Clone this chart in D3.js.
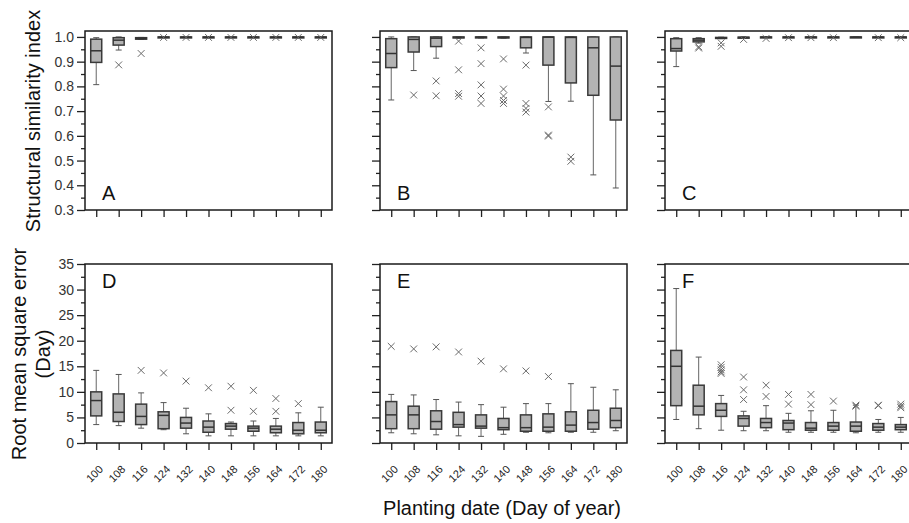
<!DOCTYPE html>
<html>
<head>
<meta charset="utf-8">
<script src="https://cdn.jsdelivr.net/npm/d3@7"></script>
<style>
  body { margin: 0; background: #fff; }
  text { font-family: "Liberation Sans", Arial, sans-serif; }
</style>
</head>
<body>
<div id="chart"></div>
<script>
// planting dates (categories)
const dates = ["100", "108", "116", "124", "132", "140", "148", "156", "164", "172", "180"];

// each box: [whisker low, q1, median, q3, whisker high]
const ssiA = [
  [0.807, 0.897, 0.944, 0.991, 0.997], [0.947, 0.967, 0.987, 0.997, 1.0], [0.990, 0.991, 0.994, 0.997, 0.998],
  [0.997, 0.998, 0.999, 1.0, 1.0], [0.997, 0.998, 0.999, 1.0, 1.0], [0.997, 0.998, 0.999, 1.0, 1.0],
  [0.997, 0.998, 0.999, 1.0, 1.0], [0.997, 0.998, 0.999, 1.0, 1.0], [0.997, 0.998, 0.999, 1.0, 1.0],
  [0.997, 0.998, 0.999, 1.0, 1.0], [0.997, 0.998, 0.999, 1.0, 1.0]
];
const ssiAOut = [[], [0.887], [0.933], [0.998], [0.998], [0.998], [0.998], [0.998], [0.998], [0.998], [0.998]];

const ssiB = [
  [0.745, 0.876, 0.933, 0.993, 1.0], [0.864, 0.939, 0.990, 1.0, 1.0], [0.914, 0.961, 0.995, 1.0, 1.0],
  [0.995, 0.996, 0.998, 1.0, 1.0], [0.996, 0.997, 0.999, 1.0, 1.0], [0.995, 0.996, 0.998, 1.0, 1.0],
  [0.935, 0.956, 0.998, 1.0, 1.0], [0.739, 0.886, 0.999, 1.0, 1.0], [0.740, 0.814, 0.998, 1.0, 1.0],
  [0.442, 0.764, 0.956, 1.0, 1.0], [0.389, 0.664, 0.882, 1.0, 1.0]
];
const ssiBOut = [
  [], [0.765], [0.822, 0.762], [0.983, 0.867, 0.771, 0.760], [0.956, 0.892, 0.806, 0.761, 0.731],
  [0.911, 0.789, 0.761, 0.743, 0.731], [0.886, 0.731, 0.711, 0.696], [0.717, 0.603, 0.599],
  [0.514, 0.497], [], []
];

const ssiC = [
  [0.880, 0.943, 0.953, 0.993, 0.997], [0.975, 0.980, 0.987, 0.993, 0.997], [0.993, 0.994, 0.996, 0.998, 0.999],
  [0.996, 0.997, 0.998, 0.999, 1.0], [0.997, 0.998, 0.999, 1.0, 1.0], [0.998, 0.998, 0.999, 1.0, 1.0],
  [0.998, 0.998, 0.999, 1.0, 1.0], [0.998, 0.998, 0.999, 1.0, 1.0], [0.998, 0.998, 0.999, 1.0, 1.0],
  [0.998, 0.998, 0.999, 1.0, 1.0], [0.998, 0.998, 0.999, 1.0, 1.0]
];
const ssiCOut = [[], [0.960, 0.955], [0.976, 0.962], [0.990], [0.994], [0.997], [0.997], [0.997], [], [0.997], [0.997]];

const rmseD = [
  [3.6, 5.3, 8.3, 10.0, 14.2], [3.4, 4.2, 6.0, 9.6, 13.4], [2.9, 3.6, 5.2, 7.6, 9.8],
  [2.6, 2.8, 5.4, 6.1, 7.9], [1.8, 2.9, 3.9, 5.0, 6.8], [1.4, 2.1, 3.1, 4.3, 5.7],
  [1.4, 2.7, 3.3, 3.8, 4.1], [1.4, 2.3, 2.9, 3.3, 4.3], [1.4, 2.0, 2.7, 3.3, 4.8],
  [1.4, 1.8, 2.5, 4.0, 5.9], [1.4, 2.0, 2.5, 4.1, 7.0]
];
const rmseDOut = [[], [], [14.2], [13.7], [12.1], [10.8], [11.1, 6.4], [10.3, 6.2], [8.7, 6.2], [7.7], []];

const rmseE = [
  [2.0, 2.8, 5.5, 8.1, 9.5], [1.8, 2.8, 5.5, 7.2, 9.4], [1.6, 2.7, 4.2, 6.3, 8.5],
  [1.4, 3.1, 3.6, 6.0, 8.0], [1.3, 2.9, 3.3, 5.5, 7.5], [1.7, 2.6, 3.0, 4.8, 7.0],
  [2.1, 2.3, 3.0, 5.5, 7.7], [2.0, 2.3, 3.1, 5.7, 7.7], [2.1, 2.3, 3.5, 6.1, 11.6],
  [2.1, 2.7, 4.0, 6.4, 10.9], [2.4, 3.0, 4.4, 6.8, 10.4]
];
const rmseEOut = [[18.9], [18.4], [18.8], [17.8], [16.0], [14.5], [14.1], [13.0], [], [], []];

const rmseF = [
  [4.6, 7.3, 15.0, 18.1, 30.2], [2.8, 5.5, 7.2, 11.3, 16.8], [2.5, 5.2, 6.4, 7.7, 9.3],
  [2.4, 3.3, 4.8, 5.3, 6.2], [2.4, 3.0, 4.0, 4.8, 7.3], [2.1, 2.6, 3.9, 4.4, 5.8],
  [2.1, 2.5, 2.9, 4.0, 6.3], [2.1, 2.5, 3.3, 4.0, 6.4], [2.0, 2.3, 3.3, 4.1, 7.4],
  [2.1, 2.5, 3.1, 3.8, 4.6], [2.1, 2.6, 3.1, 3.6, 5.0]
];
const rmseFOut = [
  [], [], [15.3, 14.8, 14.3, 13.9, 13.6], [12.9, 10.4, 8.5], [11.3, 9.1], [9.5, 7.6],
  [9.5, 7.5], [8.2], [7.4, 7.2], [7.4, 7.3], [7.6, 7.2, 6.9]
];

const ssiTicks = [0.3, 0.4, 0.5, 0.6, 0.7, 0.8, 0.9, 1.0];
const rmseTicks = [0, 5, 10, 15, 20, 25, 30, 35];

const width = 909, height = 523;
const panelW = 247, panelH = 179;
const colX = [85, 380, 665];
const rowY = [31, 264];

const svg = d3.select("#chart").append("svg")
  .attr("width", width)
  .attr("height", height);

const panels = [
  { letter: "A", boxes: ssiA, outs: ssiAOut, row: 0, col: 0 },
  { letter: "B", boxes: ssiB, outs: ssiBOut, row: 0, col: 1 },
  { letter: "C", boxes: ssiC, outs: ssiCOut, row: 0, col: 2 },
  { letter: "D", boxes: rmseD, outs: rmseDOut, row: 1, col: 0 },
  { letter: "E", boxes: rmseE, outs: rmseEOut, row: 1, col: 1 },
  { letter: "F", boxes: rmseF, outs: rmseFOut, row: 1, col: 2 }
];

function drawPanel(p) {
  let g = svg.append("g")
    .attr("transform", `translate(${colX[p.col]}, ${rowY[p.row]})`);

  let x = d3.scalePoint()
    .domain(dates)
    .range([0, panelW])
    .padding(0.5);

  let y, majors, minors, fmt;
  if (p.row === 0) {
    y = d3.scaleLinear().domain([0.3, 1.024]).range([panelH, 0]);
    majors = ssiTicks;
    minors = ssiTicks.slice(0, -1).map(v => v + 0.05);
    fmt = d3.format(".1f");
  } else {
    y = d3.scaleLinear().domain([0, 35]).range([panelH, 0]);
    majors = rmseTicks;
    minors = rmseTicks.slice(0, -1).map(v => v + 2.5);
    fmt = d3.format("d");
  }

  // minor y ticks
  g.append("g")
    .call(d3.axisLeft(y).tickValues(minors).tickSize(4).tickFormat(""))
    .call(a => a.select(".domain").remove())
    .selectAll("line").attr("stroke", "#222").attr("stroke-width", 1.3);

  // major y ticks (labels only on the left column)
  let yAx = g.append("g")
    .call(d3.axisLeft(y).tickValues(majors).tickSize(8).tickPadding(3)
      .tickFormat(p.col === 0 ? fmt : ""));
  yAx.select(".domain").remove();
  yAx.selectAll("line").attr("stroke", "#222").attr("stroke-width", 1.3);
  yAx.selectAll("text")
    .attr("fill", "#333")
    .style("font-size", "14px")
    .style("font-family", "Liberation Sans, Arial, sans-serif");

  // x ticks
  let xAx = g.append("g")
    .attr("transform", `translate(0, ${panelH})`)
    .call(d3.axisBottom(x).tickSize(7).tickFormat(""));
  xAx.select(".domain").remove();
  xAx.selectAll("line").attr("stroke", "#222").attr("stroke-width", 1.3);

  // rotated date labels on the bottom row (45 degrees up to the right)
  if (p.row === 1) {
    const c = Math.SQRT1_2;
    g.append("g").selectAll("text")
      .data(dates)
      .enter()
      .append("text")
      .attr("x", 0)
      .attr("y", 0)
      .attr("transform", d => `matrix(${c},${-c},${c},${c},${x(d) + 7.5},${panelH + 27})`)
      .style("text-anchor", "end")
      .style("font-size", "11px")
      .attr("fill", "#222")
      .text(d => d);
  }

  let bw = 11;

  let items = g.append("g").selectAll("g")
    .data(p.boxes)
    .enter()
    .append("g")
    .attr("transform", (d, i) => `translate(${x(dates[i])}, 0)`);

  // whiskers
  items.append("line")
    .attr("x1", 0).attr("x2", 0)
    .attr("y1", d => y(d[0])).attr("y2", d => y(d[1]))
    .attr("stroke", "#666").attr("stroke-width", 1);
  items.append("line")
    .attr("x1", 0).attr("x2", 0)
    .attr("y1", d => y(d[3])).attr("y2", d => y(d[4]))
    .attr("stroke", "#666").attr("stroke-width", 1);
  items.append("line")
    .attr("x1", -3).attr("x2", 3)
    .attr("y1", d => y(d[0])).attr("y2", d => y(d[0]))
    .attr("stroke", "#555").attr("stroke-width", 1);
  items.append("line")
    .attr("x1", -3).attr("x2", 3)
    .attr("y1", d => y(d[4])).attr("y2", d => y(d[4]))
    .attr("stroke", "#555").attr("stroke-width", 1);

  // boxes
  items.append("rect")
    .attr("x", -bw / 2)
    .attr("width", bw)
    .attr("y", d => y(d[3]))
    .attr("height", d => Math.max(y(d[1]) - y(d[3]), 1))
    .attr("fill", "#b3b3b3")
    .attr("stroke", "#3a3a3a")
    .attr("stroke-width", 1.5);
  items.append("line")
    .attr("x1", -bw / 2).attr("x2", bw / 2)
    .attr("y1", d => y(d[2])).attr("y2", d => y(d[2]))
    .attr("stroke", "#333").attr("stroke-width", 1.5);

  // outliers as x marks
  let outData = [];
  p.outs.forEach((vals, i) => vals.forEach(v => outData.push({ date: dates[i], v: v })));
  let s = 3.4;
  g.append("g").selectAll("path")
    .data(outData)
    .enter()
    .append("path")
    .attr("d", d => {
      let cx = x(d.date), cy = y(d.v);
      return `M${cx - s},${cy - s}L${cx + s},${cy + s}M${cx - s},${cy + s}L${cx + s},${cy - s}`;
    })
    .attr("stroke", "#6a6a6a")
    .attr("stroke-width", 1)
    .attr("fill", "none");

  // frame
  g.append("rect")
    .attr("width", panelW)
    .attr("height", panelH)
    .attr("fill", "none")
    .attr("stroke", "#1a1a1a")
    .attr("stroke-width", 1.5);

  // panel letter
  g.append("text")
    .attr("x", 17)
    .attr("y", p.row === 0 ? panelH - 10 : 24)
    .style("font-size", "20px")
    .attr("fill", "#111")
    .text(p.letter);
}

panels.forEach(drawPanel);

// axis titles
svg.append("text")
  .attr("transform", "translate(40, 121) rotate(-90)")
  .style("text-anchor", "middle")
  .style("font-size", "20px")
  .attr("fill", "#111")
  .text("Structural similarity index");

svg.append("text")
  .attr("transform", "translate(26, 354) rotate(-90)")
  .style("text-anchor", "middle")
  .style("font-size", "20px")
  .attr("fill", "#111")
  .text("Root mean square error");

svg.append("text")
  .attr("transform", "translate(50, 354) rotate(-90)")
  .style("text-anchor", "middle")
  .style("font-size", "20px")
  .attr("fill", "#111")
  .text("(Day)");

svg.append("text")
  .attr("x", 502)
  .attr("y", 515)
  .style("text-anchor", "middle")
  .style("font-size", "20px")
  .attr("fill", "#111")
  .text("Planting date (Day of year)");
</script>
</body>
</html>
